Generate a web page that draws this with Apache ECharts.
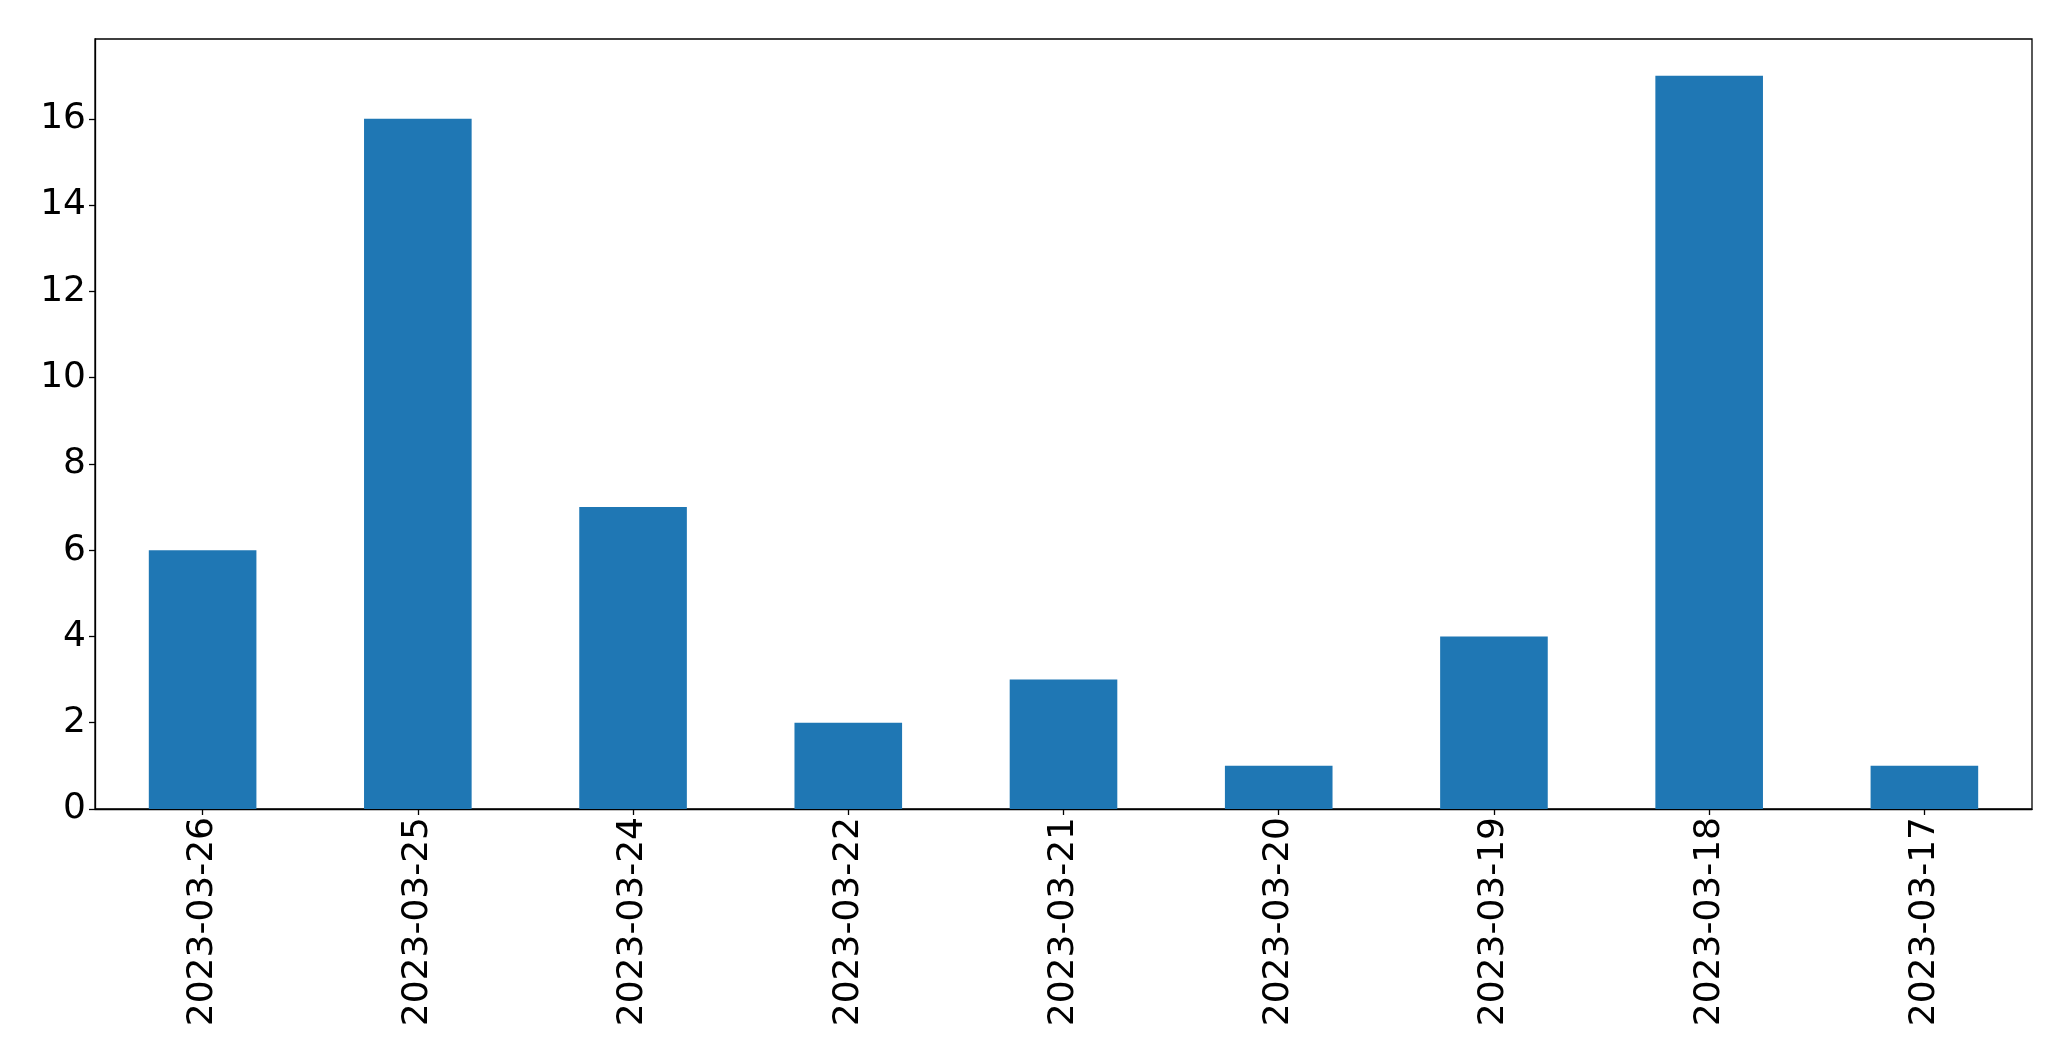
<!DOCTYPE html>
<html>
<head>
<meta charset="utf-8">
<script src="https://cdn.jsdelivr.net/npm/echarts@6/dist/echarts.min.js"></script>
<style>
html,body{margin:0;padding:0;background:#fff;}
#chart{width:2071px;height:1061px;}
</style>
</head>
<body>
<div id="chart"></div>
<script>
const categories = ['2023-03-26','2023-03-25','2023-03-24','2023-03-22','2023-03-21','2023-03-20','2023-03-19','2023-03-18','2023-03-17'];
const values = [6, 16, 7, 2, 3, 1, 4, 17, 1];
const yTicks = [0, 2, 4, 6, 8, 10, 12, 14, 16];

const chart = echarts.init(document.getElementById('chart'), null, {renderer: 'canvas'});
const font = 'DejaVu Sans';
chart.setOption({
  animation: false,
  backgroundColor: '#ffffff',
  grid: {left: 95, right: 39, top: 39, bottom: 252, show: true, borderColor: '#000', borderWidth: 1.3, containLabel: false},
  xAxis: {
    type: 'category',
    data: categories,
    boundaryGap: true,
    axisLine: {show: true, lineStyle: {color: '#000', width: 1.3}},
    axisTick: {show: true, alignWithLabel: true, length: 6, lineStyle: {color: '#000', width: 1.3}},
    axisLabel: {rotate: 90, margin: 8, color: '#000', fontFamily: font, fontSize: 36, interval: 0},
    splitLine: {show: false}
  },
  yAxis: {
    type: 'value',
    min: 0,
    max: 17.85,
    interval: 2,
    axisLine: {show: true, lineStyle: {color: '#000', width: 1.3}},
    axisTick: {show: true, length: 6, lineStyle: {color: '#000', width: 1.3}},
    axisLabel: {
      margin: 9, color: '#000', fontFamily: font, fontSize: 36, showMaxLabel: false,
      formatter: function (v) { return yTicks.indexOf(v) >= 0 ? String(v) : ''; }
    },
    splitLine: {show: false}
  },
  series: [{
    type: 'bar',
    data: values,
    barWidth: '50%',
    itemStyle: {color: '#1f77b4'}
  }]
});
</script>
</body>
</html>
